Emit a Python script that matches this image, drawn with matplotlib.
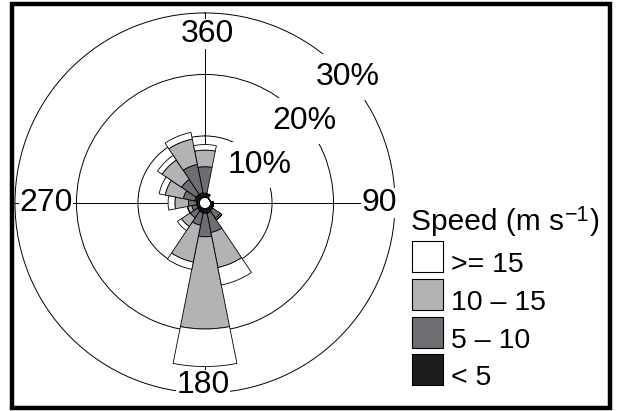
import numpy as np
import matplotlib.pyplot as plt
from matplotlib.patches import Rectangle

plt.rcParams["font.family"] = ["Liberation Sans", "DejaVu Sans"]

# Wind directions (deg, clockwise from north) and frequency (%) per speed class
directions = [0, 22.5, 45, 67.5, 90, 112.5, 135, 157.5,
              180, 202.5, 225, 247.5, 270, 292.5, 315, 337.5]
speed_lt5 = [0.7, 0.6, 0.0, 0.0, 0.4, 0.5, 0.6, 0.8,
             0.8, 0.7, 0.6, 0.5, 0.5, 0.8, 0.8, 0.8]
speed_5_10 = [4.3, 0.0, 0.0, 0.0, 0.0, 0.0, 1.5, 3.2,
              3.8, 2.1, 1.4, 0.8, 1.3, 1.9, 2.9, 4.7]
speed_10_15 = [2.7, 0.0, 0.0, 0.0, 0.0, 0.0, 0.3, 5.8,
               15.0, 6.1, 1.7, 0.7, 2.2, 3.0, 3.8, 4.2]
speed_ge15 = [0.9, 0.0, 0.0, 0.0, 0.0, 0.0, 0.0, 2.9,
              6.1, 1.2, 0.8, 0.0, 1.1, 1.0, 0.9, 1.1]

classes = [">= 15", "10 \u2013 15", "5 \u2013 10", "< 5"]
colors = ["#ffffff", "#b2b3b5", "#6d6e71", "#1e1c1d"]

fig = plt.figure(figsize=(6.17, 4.11), dpi=100)
ax = fig.add_axes([0.0193, 0.0363, 0.6259, 0.9397], projection="polar")
ax.set_theta_zero_location("N")
ax.set_theta_direction(-1)
ax.set_ylim(-0.9, 30.5)
ax.set_axisbelow(True)

theta = np.deg2rad(directions)
width = np.deg2rad(22.5)
bottom = np.zeros(len(directions))
for vals, c in zip([speed_lt5, speed_5_10, speed_10_15, speed_ge15], colors[::-1]):
    vals = np.array(vals)
    ax.bar(theta, vals, width=width, bottom=bottom, color=c,
           edgecolor="black", linewidth=0.6, zorder=2)
    bottom += vals

# circles and cross lines
ax.set_rgrids([10, 20, 30], labels=[])
ax.set_thetagrids([])
ax.grid(True, color="black", linewidth=0.7)
ax.spines["polar"].set_visible(False)
for a in [0, 90, 180, 270]:
    ax.plot([np.deg2rad(a)] * 2, [0, 30], color="black", lw=0.7, zorder=0.5)

lab_box = dict(facecolor="white", edgecolor="none", pad=0.3)
for a, r, s in [(0.8, 26.6, "360"), (90, 27.4, "90"), (180.6, 28.7, "180"), (270, 25.0, "270")]:
    ax.text(np.deg2rad(a), r, s, fontsize=23, ha="center", va="center",
            bbox=lab_box, zorder=3)
for a, r, s in [(55, 10, "10%"), (50.6, 20, "20%"), (48.6, 30, "30%")]:
    ax.text(np.deg2rad(a), r, s, fontsize=23, ha="center", va="center",
            bbox=dict(facecolor="white", edgecolor="none", boxstyle="square,pad=0.25"),
            zorder=3)

# legend and frame drawn in pixel coordinates
ov = fig.add_axes([0, 0, 1, 1])
ov.set_xlim(0, 617)
ov.set_ylim(411, 0)
ov.axis("off")
ov.patch.set_visible(False)
ov.add_patch(Rectangle((12, 4.5), 598, 403, fill=False, edgecolor="black", lw=3.2))

# title: "Speed (m s^-1)" with a full-size superscript
t1 = ov.text(411, 230, "Speed (m s", fontsize=21.5, ha="left", va="baseline")
t2 = ov.annotate("\u22121", xy=(1, 1), xycoords=t1, xytext=(0.5, 2.5),
                 textcoords="offset points", fontsize=15.5, ha="left", va="top")
ov.annotate(")", xy=(1, 0), xycoords=(t2, t1), xytext=(0.5, 0),
            textcoords="offset points", fontsize=21.5, ha="left", va="bottom")

for i, (lab, c) in enumerate(zip(classes, colors)):
    y0 = 241 + i * 37.8
    ov.add_patch(Rectangle((412, y0), 31, 31, facecolor=c, edgecolor="black", lw=0.8))
    ov.text(451, y0 + 31, lab, fontsize=20.5, ha="left", va="baseline")

fig.savefig("out.png", dpi=100)
